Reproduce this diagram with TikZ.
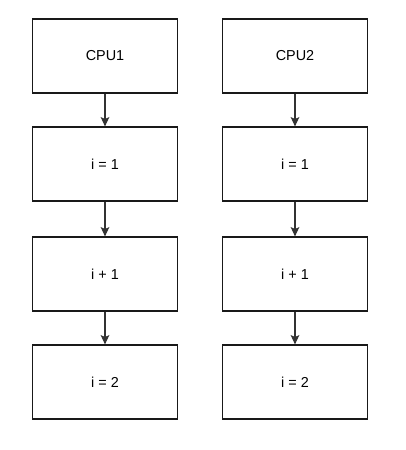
\documentclass[tikz,border=0pt]{standalone}
\usepackage{fontspec}
\setmainfont{Liberation Sans}
\usetikzlibrary{arrows.meta}
\begin{document}
\begin{tikzpicture}[x=0.75pt,y=-0.75pt,
  box/.style={draw=black!90,line width=0.9pt,minimum width=108.75pt,minimum height=55.5pt,inner sep=0pt,font=\fontsize{10.8}{13}\selectfont},
  conn/.style={draw=black!80,line width=0.9pt,-{Stealth[length=7pt,width=6.5pt,inset=1.5pt]}}]
\fill[white] (0,0) rectangle (405,450);
\useasboundingbox (0,0) rectangle (405,450);
\node[box] (a1) at (105,56) {CPU1};
\node[box] (a2) at (105,164) {i = 1};
\node[box] (a3) at (105,274) {i + 1};
\node[box] (a4) at (105,382) {i = 2};
\node[box] (b1) at (295,56) {CPU2};
\node[box] (b2) at (295,164) {i = 1};
\node[box] (b3) at (295,274) {i + 1};
\node[box] (b4) at (295,382) {i = 2};
\draw[conn] (a1) -- (a2);
\draw[conn] (a2) -- (a3);
\draw[conn] (a3) -- (a4);
\draw[conn] (b1) -- (b2);
\draw[conn] (b2) -- (b3);
\draw[conn] (b3) -- (b4);
\end{tikzpicture}
\end{document}
